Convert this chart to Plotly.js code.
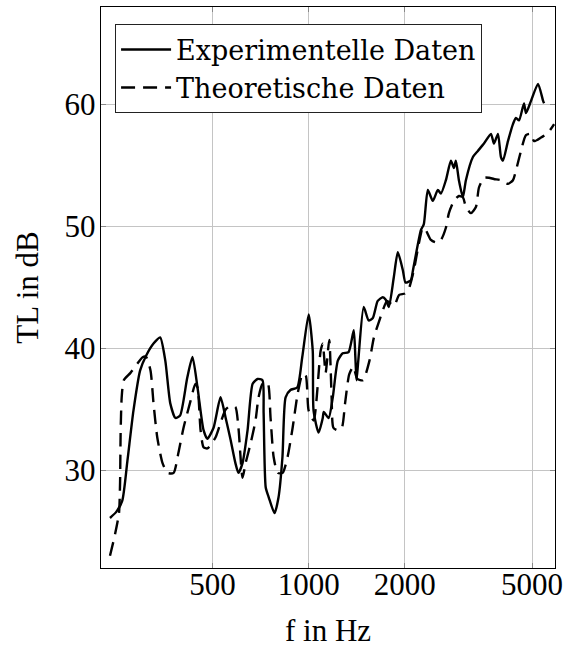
<!DOCTYPE html>
<html>
<head>
<meta charset="utf-8">
<script src="https://cdn.plot.ly/plotly-3.0.1.min.js"></script>
<style>html,body{margin:0;padding:0;background:#fff;}#chart{width:564px;height:648px;}</style>
</head>
<body>
<div id="chart"></div>
<script>
// Experimentelle Daten (f in Hz, TL in dB)
const expFreq = [239,250,261,271,283,297,310,327,343,356,369,383,396,417,433,449,469,482,504,530,550,570,590,603,621,644,668,692,717,723,734,750,782,805,828,847,877,921,955,1000,1030,1036,1074,1107,1115,1155,1190,1234,1278,1333,1384,1400,1412,1430,1487,1541,1588,1645,1706,1743,1782,1846,1901,1972,2010,2089,2120,2245,2293,2360,2446,2537,2593,2688,2787,2848,2888,2952,3038,3105,3266,3385,3536,3720,3800,3912,3997,4056,4204,4358,4454,4552,4719,4786,4964,5222,5415,5454];
const expTL   = [26.1,26.6,27.5,30.8,34.9,38.2,39.4,40.4,40.9,39.0,35.5,34.3,34.5,37.6,39.3,36.8,33.3,32.6,33.5,36.0,34.3,32.5,30.6,29.8,30.6,33.3,37.1,37.5,37.4,34.7,28.6,27.8,26.5,27.8,31.1,36.0,36.6,36.8,39.3,42.8,39.8,34.9,33.1,34.3,34.8,34.3,36.0,39.0,39.6,39.7,41.5,39.3,37.4,39.0,43.4,42.3,42.5,43.9,44.2,44.0,43.4,45.8,47.9,46.4,45.4,45.6,46.4,49.7,50.2,53.0,52.1,53.0,52.7,53.8,55.4,54.8,55.4,53.8,52.4,53.8,55.7,56.2,56.8,57.6,56.8,57.6,55.7,55.4,57.0,58.4,58.9,58.7,60.1,59.3,60.3,61.7,60.3,60.1];

// Theoretische Daten
const theoFreq = [239,248,255,257,258,260,264,277,292,303,310,320,327,336,349,362,378,391,406,427,442,449,459,469,482,511,530,550,570,590,603,621,635,658,682,697,717,744,760,777,800,829,859,891,924,957,979,1000,1037,1090,1107,1130,1160,1180,1195,1230,1270,1300,1340,1380,1420,1480,1550,1600,1650,1700,1760,1850,1920,2000,2058,2133,2212,2276,2326,2413,2500,2593,2688,2747,2848,2952,3038,3105,3219,3337,3411,3536,3666,3800,3997,4204,4358,4454,4617,4786,4964,5073,5336,5612,5862];
const theoTL   = [23.0,24.8,26.5,29.0,33.0,36.0,37.4,38.0,38.8,39.3,39.3,38.2,35.5,32.7,30.6,29.8,29.8,31.4,33.5,35.7,37.1,36.8,33.3,31.9,31.8,32.7,33.9,35.0,35.3,35.2,33.5,29.4,30.6,32.2,34.1,36.0,37.1,37.2,34.3,31.1,29.8,29.8,31.1,33.5,36.3,37.9,37.8,34.9,34.1,39.8,40.4,38.0,40.7,36.0,33.5,33.3,33.5,35.5,37.9,38.5,37.5,37.4,39.0,40.9,42.0,43.0,43.9,43.5,44.4,44.5,44.9,46.4,48.6,49.9,49.7,48.9,48.7,48.9,49.9,51.1,52.1,52.5,52.4,51.6,51.1,51.6,53.2,54.0,54.0,53.9,53.8,53.5,53.8,54.6,56.2,57.5,57.6,57.0,57.3,57.7,58.4];

const xTicks = [500,1000,2000,5000];
const xTickText = ['500','1000','2000','5000'];
const yTicks = [30,40,50,60];
const yTickText = ['30','40','50','60'];

const FONT = 'Liberation Serif, DejaVu Serif, serif';
const LEGEND_FONT = 'DejaVu Serif, Liberation Serif, serif';

const traces = [
  {x: expFreq, y: expTL, type: 'scatter', mode: 'lines', name: 'Experimentelle Daten',
   line: {color: '#000', width: 2.4, shape: 'spline', smoothing: 0.6}},
  {x: theoFreq, y: theoTL, type: 'scatter', mode: 'lines', name: 'Theoretische Daten',
   line: {color: '#000', width: 2.4, dash: '14px,8px', shape: 'spline', smoothing: 0.6}}
];

const axisCommon = {
  showgrid: true, gridcolor: '#c4c4c4', gridwidth: 1,
  showline: true, linecolor: '#000', linewidth: 1.3, mirror: 'ticks',
  ticks: 'inside', ticklen: 5, tickcolor: '#888', tickwidth: 1,
  zeroline: false,
  tickfont: {family: FONT, size: 31, color: '#000'}
};

const layout = {
  width: 564, height: 648,
  margin: {l: 101, r: 9, t: 7, b: 80},
  paper_bgcolor: '#fff', plot_bgcolor: '#fff',
  showlegend: true,
  xaxis: Object.assign({}, axisCommon, {
    type: 'log', range: [Math.log10(224), Math.log10(5900)],
    tickvals: xTicks, ticktext: xTickText, ticklabelstandoff: -12,
    title: {text: 'f in Hz', font: {family: FONT, size: 31, color: '#000'}, standoff: 22}
  }),
  yaxis: Object.assign({}, axisCommon, {
    range: [22, 68], tickvals: yTicks, ticktext: yTickText, ticklabelstandoff: -2,
    title: {text: 'TL in dB', font: {family: FONT, size: 31, color: '#000'}, standoff: 16}
  }),
  legend: {
    x: 0.031, y: 0.969, xanchor: 'left', yanchor: 'top',
    bgcolor: '#fff', bordercolor: '#222', borderwidth: 1,
    font: {family: LEGEND_FONT, size: 27, color: '#000'},
    tracegroupgap: 0, itemwidth: 50
  }
};

Plotly.newPlot('chart', traces, layout, {staticPlot: true, displayModeBar: false});
</script>
</body>
</html>
